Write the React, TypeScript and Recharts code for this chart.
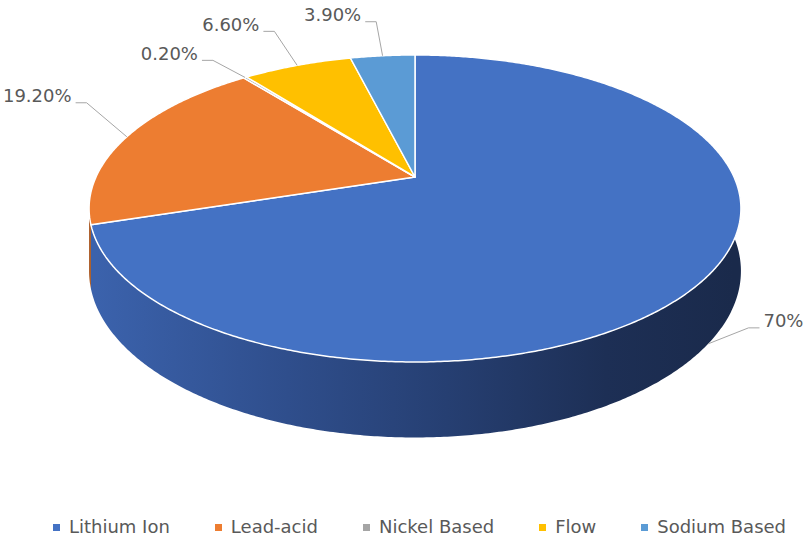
import React from 'react';
import { PieChart, Pie, Cell, Legend } from 'recharts';

const categories = ['Lithium Ion', 'Lead-acid', 'Nickel Based', 'Flow', 'Sodium Based'];
const shares = [70, 19.2, 0.2, 6.6, 3.9];
const shareLabels = ['70%', '19.20%', '0.20%', '6.60%', '3.90%'];

const COLORS = ['#4472C4', '#ED7D31', '#A5A5A5', '#FFC000', '#5B9BD5'];
const SIDE_COLORS = ['url(#sideBlue)', '#A9561F', '#767676', '#B88A00', '#3F73A3'];

const W = 809;
const H = 540;
const CX = 415;
const CY = 177;
const R = 319;
const TILT = 0.461;
const PERSP = 0.205;
const DEPTH = 60;
const FONT = '"DejaVu Sans", sans-serif';
const FONT_SIZE = 18;
const TEXT_COLOR = '#595959';
const START = 90;

const data = categories.map((name, i) => ({ name, value: shares[i] }));

const RAD = Math.PI / 180;

function proj(cx: number, cy: number, r: number, deg: number, h = 0): [number, number] {
  const c = Math.cos(deg * RAD);
  const s = Math.sin(deg * RAD);
  const k = 1 / (1 + PERSP * s);
  return [cx + r * c * k, cy - r * TILT * s * k + h * k];
}

function arc(cx: number, cy: number, r: number, from: number, to: number, h: number): [number, number][] {
  const n = Math.max(2, Math.ceil(Math.abs(to - from) / 0.5));
  const pts: [number, number][] = [];
  for (let i = 0; i <= n; i++) {
    const a = from + ((to - from) * i) / n;
    pts.push(proj(cx, cy, r, a, h));
  }
  return pts;
}

const toPath = (pts: [number, number][]) =>
  pts.map((p, i) => `${i === 0 ? 'M' : 'L'}${p[0].toFixed(2)},${p[1].toFixed(2)}`).join(' ');

// ---- label layout (computed from the data, with a simple collision pass) ----
const textWidth = (s: string) =>
  s.split('').reduce((w, ch) => w + (ch === '.' ? 0.318 : ch === '%' ? 0.95 : 0.636), 0) * FONT_SIZE;
type LabelPos = { ax: number; ay: number; ex: number; ey: number; dir: number };

function layoutLabels(cx: number, cy: number, r: number): LabelPos[] {
  const total = shares.reduce((a, b) => a + b, 0);
  let cum = 0;
  const out: LabelPos[] = shares.map((v, i) => {
    const mid = START - ((cum + v / 2) / total) * 360;
    cum += v;
    const sn = Math.sin(mid * RAD);
    const c = Math.cos(mid * RAD);
    const dir = c >= 0 ? 1 : -1;
    let ax: number, ay: number, ex: number, ey: number;
    if (sn >= 0) {
      [ax, ay] = proj(cx, cy, r, mid, 0);
      ex = ax + c * 52;
      ey = ay - 34;
    } else {
      [ax, ay] = proj(cx, cy, r, mid, DEPTH);
      ex = ax + c * 50;
      ey = ay - 16;
    }
    const w = textWidth(shareLabels[i]);
    if (dir < 0 && ex - 15 - w < 3) ex = 3 + w + 15;
    if (dir > 0 && ex + 15 + w > W - 2) ex = W - 2 - w - 15;
    return { ax, ay, ex, ey, dir };
  });
  const order = out
    .map((p, i) => ({ p, i }))
    .filter((o) => o.p.ay < cy)
    .sort((a, b) => a.p.ey - b.p.ey);
  for (let j = 1; j < order.length; j++) {
    const prev = order[j - 1];
    const cur = order[j];
    const pw = textWidth(shareLabels[prev.i]);
    const cw = textWidth(shareLabels[cur.i]);
    const pL = prev.p.ex - 15 - pw;
    const pR = prev.p.ex - 15;
    const cL = cur.p.ex - 15 - cw;
    const cR = cur.p.ex - 15;
    const xOverlap = cL < pR + 15 && cR > pL - 15;
    if (xOverlap && cur.p.ey < prev.p.ey + 29) cur.p.ey = prev.p.ey + 29;
  }
  return out;
}

const TopShape = (props: any) => {
  const { cx, cy, outerRadius, startAngle, endAngle, fill } = props;
  const pts = arc(cx, cy, outerRadius, startAngle, endAngle, 0);
  const d = `M${cx},${cy} ` + toPath(pts).replace(/^M/, 'L') + ' Z';
  return <path d={d} fill={fill} stroke="#FFFFFF" strokeWidth={1.5} strokeLinejoin="round" />;
};

const SideShape = (props: any) => {
  const { cx, cy, outerRadius, startAngle, endAngle, index } = props;
  const lo0 = Math.min(startAngle, endAngle);
  const hi0 = Math.max(startAngle, endAngle);
  const silhouette = Math.asin(PERSP) / RAD;
  const paths: string[] = [];
  for (let n = -2; n <= 1; n++) {
    const lo = Math.max(lo0, -180 + silhouette + 360 * n);
    const hi = Math.min(hi0, 360 * n);
    if (hi > lo) {
      const top = arc(cx, cy, outerRadius, lo, hi, 0);
      const bot = arc(cx, cy, outerRadius, hi, lo, DEPTH);
      paths.push(toPath([...top, ...bot]) + ' Z');
    }
  }
  return (
    <g>
      {index === 0 && (
        <defs>
          <linearGradient id="sideBlue" gradientUnits="userSpaceOnUse" x1={cx - outerRadius} y1={0} x2={cx + outerRadius} y2={0}>
            <stop offset="0%" stopColor="#3B62AC" />
            <stop offset="30%" stopColor="#2F4E8C" />
            <stop offset="55%" stopColor="#263F72" />
            <stop offset="80%" stopColor="#1D2F55" />
            <stop offset="100%" stopColor="#1A2A4B" />
          </linearGradient>
        </defs>
      )}
      {paths.map((d, i) => (
        <path key={i} d={d} fill={SIDE_COLORS[index]} stroke="none" />
      ))}
    </g>
  );
};

const renderLabel = (props: any) => {
  const { cx, cy, outerRadius, index } = props;
  const pos = layoutLabels(cx, cy, outerRadius)[index];
  const { ax, ay, ex, ey, dir } = pos;
  const tx = ex + dir * 11;
  return (
    <g key={`lbl-${index}`}>
      <polyline
        points={`${ax},${ay} ${ex},${ey} ${tx},${ey}`}
        fill="none"
        stroke="#A6A6A6"
        strokeWidth={1}
      />
      <text
        x={tx + dir * 4}
        y={ey - 7}
        textAnchor={dir > 0 ? 'start' : 'end'}
        dominantBaseline="central"
        fontFamily={FONT}
        fontSize={FONT_SIZE}
        fill={TEXT_COLOR}
      >
        {shareLabels[index]}
      </text>
    </g>
  );
};

const renderLegend = () => (
  <div
    style={{
      display: 'flex',
      justifyContent: 'center',
      alignItems: 'center',
      gap: 45,
      paddingLeft: 30,
      fontFamily: FONT,
      fontSize: FONT_SIZE,
      color: TEXT_COLOR,
      lineHeight: '22px',
      whiteSpace: 'nowrap',
    }}
  >
    {categories.map((name, i) => (
      <div key={name} style={{ display: 'flex', alignItems: 'center' }}>
        <span style={{ width: 7, height: 7, background: COLORS[i], marginRight: 9, display: 'inline-block' }} />
        <span>{name}</span>
      </div>
    ))}
  </div>
);

export default function App() {
  return (
    <div style={{ position: 'absolute', left: 0, top: 0, width: W, height: H, background: '#FFFFFF' }}>
      <PieChart width={W} height={H} margin={{ top: 0, right: 0, bottom: 0, left: 0 }}>
        <Pie
          data={data}
          dataKey="value"
          nameKey="name"
          cx={CX}
          cy={CY}
          outerRadius={R}
          startAngle={START}
          endAngle={START - 360}
          isAnimationActive={false}
          legendType="none"
          shape={SideShape}
          inactiveShape={SideShape}
          activeShape={SideShape}
          label={false}
          labelLine={false}
        >
          {data.map((d, i) => (
            <Cell key={d.name} fill={COLORS[i]} />
          ))}
        </Pie>
        <Pie
          data={data}
          dataKey="value"
          nameKey="name"
          cx={CX}
          cy={CY}
          outerRadius={R}
          startAngle={START}
          endAngle={START - 360}
          isAnimationActive={false}
          legendType="square"
          shape={TopShape}
          inactiveShape={TopShape}
          activeShape={TopShape}
          label={renderLabel}
          labelLine={false}
        >
          {data.map((d, i) => (
            <Cell key={d.name} fill={COLORS[i]} />
          ))}
        </Pie>
        <Legend content={renderLegend} wrapperStyle={{ top: 516, left: 0, width: W }} />
      </PieChart>
    </div>
  );
}
